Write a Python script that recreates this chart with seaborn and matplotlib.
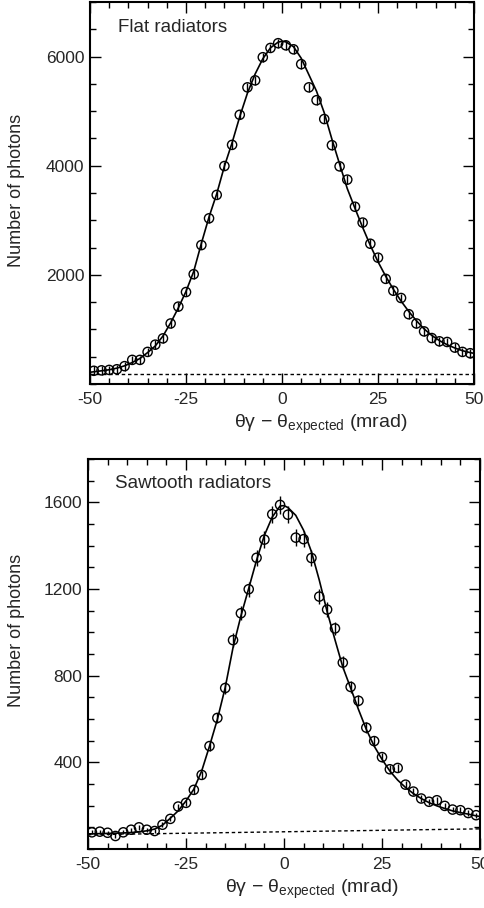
import matplotlib
matplotlib.use('Agg')
import matplotlib.pyplot as plt
from matplotlib.ticker import MultipleLocator
import seaborn as sns

# bin centres (mrad)
bins = [-49, -47, -45, -43, -41, -39, -37, -35, -33, -31, -29, -27, -25,
        -23, -21, -19, -17, -15, -13, -11, -9, -7, -5, -3, -1,
        1, 3, 5, 7, 9, 11, 13, 15, 17, 19, 21, 23, 25, 27, 29, 31, 33,
        35, 37, 39, 41, 43, 45, 47, 49]

# flat radiators: counts per bin
flat_counts = [242, 250, 258, 270, 327, 442, 442, 588, 721, 836, 1109, 1418, 1685,
               2012, 2545, 3036, 3465, 3994, 4382, 4933, 5436, 5564, 5988, 6158, 6245,
               6206, 6133, 5861, 5436, 5200, 4855, 4376, 3988, 3745, 3248, 2958, 2570,
               2315, 1927, 1709, 1576, 1279, 1109, 964, 842, 782, 770, 667, 588, 564]
flat_err = 80

# sawtooth radiators: counts per bin and errors
saw_counts = [77, 80, 75, 60, 77, 89, 100, 89, 83, 112, 139, 196, 213,
              273, 342, 475, 605, 743, 964, 1088, 1199, 1344, 1428, 1545, 1588,
              1543, 1437, 1430, 1343, 1165, 1105, 1018, 860, 748, 684, 560, 498,
              424, 368, 374, 297, 265, 233, 218, 225, 199, 182, 179, 166, 156]
saw_err = [9, 9, 9, 8, 9, 9, 10, 9, 9, 11, 12, 14, 15,
           17, 18, 22, 25, 27, 31, 33, 35, 37, 38, 39, 40,
           39, 38, 38, 37, 34, 33, 32, 29, 27, 26, 24, 22,
           21, 19, 19, 17, 16, 15, 15, 15, 14, 13, 13, 13, 12]

# fitted curves
fit_x = [-50, -49, -47, -45, -43, -41, -39, -37, -35, -33, -31, -29, -27, -25,
         -23, -21, -19, -17, -15, -13, -11, -9, -7, -5, -3, -1, 0,
         1, 3, 5, 7, 9, 11, 13, 15, 17, 19, 21, 23, 25, 27, 29, 31, 33,
         35, 37, 39, 41, 43, 45, 47, 49, 50]
flat_fit = [215, 224, 242, 261, 291, 333, 394, 467, 576, 697, 879, 1121, 1394, 1697,
            2061, 2576, 3061, 3485, 3990, 4420, 4900, 5330, 5680, 5960, 6160, 6265, 6280,
            6270, 6180, 5970, 5667, 5364, 4970, 4485, 4030, 3580, 3220, 2870, 2540,
            2240, 1975, 1735, 1520, 1330, 1160, 1010, 890, 795, 720, 660, 610, 575, 562]
saw_fit = [70, 70, 71, 72, 73, 74, 76, 79, 84, 92, 110, 142, 176, 222,
           276, 360, 475, 598, 745, 930, 1075, 1203, 1333, 1448, 1532, 1583, 1585,
           1576, 1540, 1471, 1372, 1241, 1096, 966, 840, 743, 644, 552, 475,
           414, 360, 318, 284, 256, 233, 214, 199, 187, 176, 168, 161, 153, 150]

# background levels
bg_x = [-50, 50]
flat_bg = [182, 182]
saw_bg = [66, 93]

sns.set_style('ticks')
plt.rcParams['font.family'] = ['Liberation Sans', 'DejaVu Sans']
plt.rcParams['mathtext.fontset'] = 'custom'
plt.rcParams['mathtext.rm'] = 'Liberation Sans'
plt.rcParams['axes.unicode_minus'] = False

fig = plt.figure(figsize=(4.84, 9.08), dpi=100)
ax1 = fig.add_axes([90 / 484, 1 - 384 / 908, 384 / 484, 382 / 908])
ax2 = fig.add_axes([88 / 484, 1 - 849 / 908, 392 / 484, 390 / 908])

xlabel = 'θγ − θ$_{\\mathrm{expected}}$ (mrad)'


def draw(ax, counts, err, fit, bg):
    ax.errorbar(bins, counts, yerr=err, fmt='none', ecolor='black', elinewidth=1, capsize=0)
    sns.lineplot(x=fit_x, y=fit, ax=ax, color='black', lw=1.2)
    sns.lineplot(x=bg_x, y=bg, ax=ax, color='black', lw=1, linestyle=(0, (2.5, 2)))
    sns.scatterplot(x=bins, y=counts, ax=ax, marker='o', s=44,
                    facecolor='none', edgecolor='black', linewidth=1, zorder=3)
    ax.set_xlim(-50, 50)
    ax.xaxis.set_major_locator(MultipleLocator(25))
    ax.xaxis.set_minor_locator(MultipleLocator(5))
    ax.tick_params(which='both', direction='in', top=True, right=True,
                   labelsize=12.5, width=1, color='black')
    ax.tick_params(which='major', length=8)
    ax.tick_params(which='minor', length=4)
    ax.tick_params(axis='x', pad=6)
    ax.tick_params(axis='y', pad=4)
    for s in ax.spines.values():
        s.set_linewidth(1.5)
        s.set_color('black')
    ax.set_xlabel(xlabel, fontsize=14)
    ax.set_ylabel('Number of photons', fontsize=13)


draw(ax1, flat_counts, flat_err, flat_fit, flat_bg)
ax1.set_ylim(0, 7000)
ax1.yaxis.set_minor_locator(MultipleLocator(500))
ax1.set_yticks([2000, 4000, 6000])
ax1.text(0.073, 0.921, 'Flat radiators', transform=ax1.transAxes,
         fontsize=13.5, va='baseline')
ax1.xaxis.set_label_coords(0.60, -0.075)
ax1.yaxis.set_label_coords(-0.17, 0.508)

draw(ax2, saw_counts, saw_err, saw_fit, saw_bg)
ax2.set_ylim(0, 1800)
ax2.yaxis.set_minor_locator(MultipleLocator(100))
ax2.set_yticks([400, 800, 1200, 1600])
ax2.text(0.069, 0.926, 'Sawtooth radiators', transform=ax2.transAxes,
         fontsize=13.5, va='baseline')
ax2.xaxis.set_label_coords(0.57, -0.072)
ax2.yaxis.set_label_coords(-0.16, 0.56)

fig.savefig('out.png', dpi=100)
